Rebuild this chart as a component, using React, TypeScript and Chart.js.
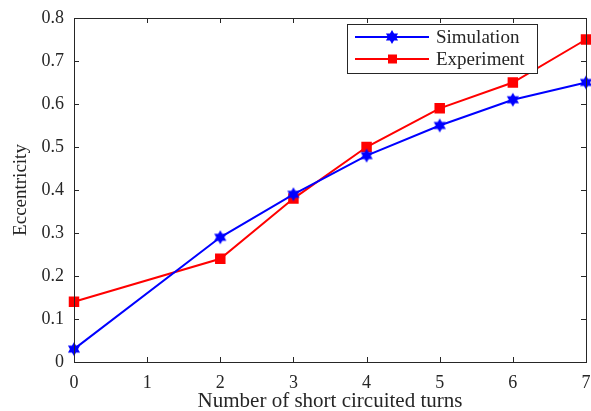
import React, { useEffect, useRef } from "react";
import { Chart, registerables } from "chart.js";

Chart.register(...registerables);

const xValues = [0, 2, 3, 4, 5, 6, 7];
const simulation = [0.03, 0.29, 0.39, 0.48, 0.55, 0.61, 0.65];
const experiment = [0.14, 0.24, 0.38, 0.5, 0.59, 0.65, 0.75];
const xTicks = [0, 1, 2, 3, 4, 5, 6, 7];
const yTicks = [0, 0.1, 0.2, 0.3, 0.4, 0.5, 0.6, 0.7, 0.8];
const seriesNames = ["Simulation", "Experiment"];
const xTitle = "Number of short circuited turns";
const yTitle = "Eccentricity";

const BLUE = "#0000ff";
const RED = "#ff0000";
const AXIS = "#262626";
const FONT = "'Liberation Serif', 'Times New Roman', serif";

function drawHexagram(ctx: CanvasRenderingContext2D, cx: number, cy: number, r: number, color: string) {
  ctx.save();
  ctx.fillStyle = color;
  ctx.beginPath();
  for (let i = 0; i < 12; i++) {
    const ang = -Math.PI / 2 + (i * Math.PI) / 6;
    const rr = i % 2 === 0 ? r : r * 0.58;
    const px = cx + rr * Math.cos(ang);
    const py = cy + rr * Math.sin(ang);
    if (i === 0) ctx.moveTo(px, py);
    else ctx.lineTo(px, py);
  }
  ctx.closePath();
  ctx.fill();
  ctx.restore();
}

function makeHexagramCanvas(color: string, r: number) {
  const c = document.createElement("canvas");
  const s = Math.ceil(r * 2 + 2);
  c.width = s;
  c.height = s;
  const ctx = c.getContext("2d")!;
  drawHexagram(ctx, s / 2, s / 2, r, color);
  return c;
}

const framePlugin = {
  id: "frame",
  afterDraw(chart: any) {
    const { ctx, chartArea } = chart;
    const { left, right, top, bottom } = chartArea;
    const xs = chart.scales.x;
    const ys = chart.scales.y;
    ctx.save();
    ctx.strokeStyle = AXIS;
    ctx.lineWidth = 1;
    ctx.strokeRect(Math.round(left) + 0.5, Math.round(top) + 0.5, Math.round(right - left), Math.round(bottom - top));
    const tl = 5;
    ctx.beginPath();
    xTicks.forEach((v) => {
      const px = Math.round(xs.getPixelForValue(v)) + 0.5;
      ctx.moveTo(px, bottom);
      ctx.lineTo(px, bottom - tl);
      ctx.moveTo(px, top);
      ctx.lineTo(px, top + tl);
    });
    yTicks.forEach((v) => {
      const py = Math.round(ys.getPixelForValue(v)) + 0.5;
      ctx.moveTo(left, py);
      ctx.lineTo(left + tl, py);
      ctx.moveTo(right, py);
      ctx.lineTo(right - tl, py);
    });
    ctx.stroke();

    // legend
    const lx = 347, ly = 24, lw = 190, lh = 49;
    ctx.fillStyle = "#ffffff";
    ctx.fillRect(lx, ly, lw, lh);
    ctx.strokeStyle = AXIS;
    ctx.lineWidth = 1;
    ctx.strokeRect(lx + 0.5, ly + 0.5, lw, lh);
    const rows = [
      { name: seriesNames[0], color: BLUE, y: ly + 13, marker: "hex" },
      { name: seriesNames[1], color: RED, y: ly + 35, marker: "sq" },
    ];
    rows.forEach((r) => {
      ctx.strokeStyle = r.color;
      ctx.lineWidth = 2;
      ctx.beginPath();
      ctx.moveTo(355, r.y);
      ctx.lineTo(429, r.y);
      ctx.stroke();
      if (r.marker === "hex") drawHexagram(ctx, 392, r.y, 7, r.color);
      else {
        ctx.fillStyle = r.color;
        ctx.fillRect(388, r.y - 4.5, 9, 9);
      }
      ctx.fillStyle = AXIS;
      ctx.font = `19px ${FONT}`;
      ctx.textBaseline = "middle";
      ctx.textAlign = "left";
      ctx.fillText(r.name, 436, r.y + 1);
    });
    ctx.restore();
  },
};

export default function App() {
  const ref = useRef<HTMLCanvasElement | null>(null);
  useEffect(() => {
    document.body.style.margin = "0";
    const hex = makeHexagramCanvas(BLUE, 7);
    const chart = new Chart(ref.current!, {
      type: "line",
      data: {
        datasets: [
          {
            label: seriesNames[0],
            data: xValues.map((x, i) => ({ x, y: simulation[i] })),
            borderColor: BLUE,
            backgroundColor: BLUE,
            borderWidth: 2,
            pointStyle: hex as any,
            pointRadius: 7,
            clip: false as any,
          },
          {
            label: seriesNames[1],
            data: xValues.map((x, i) => ({ x, y: experiment[i] })),
            borderColor: RED,
            backgroundColor: RED,
            borderWidth: 2,
            pointStyle: "rect",
            pointRadius: 6,
            clip: false as any,
          },
        ],
      },
      options: {
        responsive: false,
        animation: false,
        layout: { autoPadding: false, padding: { left: 0, right: 5, top: 18, bottom: 0 } },
        plugins: { legend: { display: false }, tooltip: { enabled: false } },
        scales: {
          x: {
            type: "linear",
            min: 0,
            max: 7,
            afterBuildTicks: (s: any) => {
              s.ticks = xTicks.map((v) => ({ value: v }));
            },
            afterFit: (s: any) => {
              s.height = 49;
              s.paddingLeft = 0;
              s.paddingRight = 0;
            },
            grid: { display: false, drawTicks: false },
            border: { display: false },
            ticks: { color: AXIS, font: { family: FONT, size: 18 }, padding: 10, maxRotation: 0 },
            title: {
              display: true,
              text: xTitle,
              color: AXIS,
              font: { family: FONT, size: 21, lineHeight: 1 },
              padding: { top: 0, bottom: -1 },
            },
          },
          y: {
            type: "linear",
            min: 0,
            max: 0.8,
            afterBuildTicks: (s: any) => {
              s.ticks = yTicks.map((v) => ({ value: v }));
            },
            afterFit: (s: any) => {
              s.width = 74;
              s.paddingTop = 0;
              s.paddingBottom = 0;
            },
            grid: { display: false, drawTicks: false },
            border: { display: false },
            ticks: {
              color: AXIS,
              font: { family: FONT, size: 18 },
              padding: 10,
              callback: (v: any) => String(Math.round(Number(v) * 10) / 10),
            },
            title: {
              display: true,
              text: yTitle,
              color: AXIS,
              font: { family: FONT, size: 19, lineHeight: 1 },
              padding: { top: 11.5, bottom: 0 },
            },
          },
        },
      },
      plugins: [framePlugin],
    });
    return () => chart.destroy();
  }, []);
  return <canvas ref={ref} width={591} height={411} style={{ display: "block" }} />;
}
